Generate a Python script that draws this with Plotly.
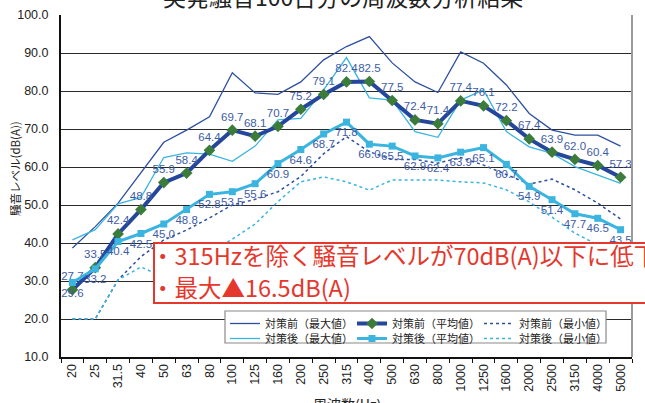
import plotly.graph_objects as go

freqs = ["20", "25", "31.5", "40", "50", "63", "80", "100", "125", "160", "200", "250", "315",
         "400", "500", "630", "800", "1000", "1250", "1600", "2000", "2500", "3150", "4000", "5000"]

before_max = [38.7, 44.3, 50.5, 58.6, 66.5, 69.7, 73.2, 84.8, 79.5, 79.1, 82.4, 88.2, 91.7,
              94.3, 87.4, 82.4, 79.6, 90.3, 87.3, 81.6, 74.1, 69.7, 68.4, 68.4, 65.5]
before_avg = [27.7, 33.5, 42.4, 48.8, 55.9, 58.4, 64.4, 69.7, 68.1, 70.7, 75.2, 79.1, 82.4,
              82.5, 77.5, 72.4, 71.4, 77.4, 76.1, 72.2, 67.4, 63.9, 62.0, 60.4, 57.3]
before_min = [20.0, 20.0, 30.3, 36.4, 40.8, 43.4, 46.6, 50.0, 51.5, 53.5, 57.5, 63.5, 68.0,
              64.0, 62.0, 62.0, 61.0, 62.5, 60.5, 58.0, 55.5, 56.8, 54.0, 50.5, 46.3]
after_max = [40.8, 43.5, 50.3, 52.0, 62.5, 63.7, 63.4, 61.5, 65.5, 72.4, 72.8, 80.3, 88.8,
             78.2, 77.6, 69.3, 67.8, 77.6, 80.3, 69.3, 65.3, 63.6, 60.1, 57.9, 55.7]
after_avg = [29.6, 33.2, 40.4, 42.5, 45.0, 48.8, 52.8, 53.5, 55.6, 60.9, 64.6, 68.7, 71.8,
             66.0, 65.5, 62.9, 62.4, 63.9, 65.1, 60.7, 54.9, 51.4, 47.7, 46.5, 43.5]
after_min = [20.0, 20.0, 30.3, 33.7, 31.0, 34.0, 37.5, 41.0, 45.0, 50.9, 56.1, 57.4, 56.1,
             53.9, 56.6, 56.6, 56.6, 56.1, 55.8, 54.0, 50.8, 46.8, 42.6, 39.5, 36.5]

names = ["対策前（最大値）", "対策前（平均値）", "対策前（最小値）",
         "対策後（最大値）", "対策後（平均値）", "対策後（最小値）"]

DARK = "#2c4fa0"
CYAN = "#3bb5e0"
GREEN = "#3b7c3b"
LABEL = "#3d5ca6"
RED = "#e5372c"
ORANGE = "#e8702a"
JP = "Noto Sans CJK JP"
LAT = "Liberation Sans, Arial, sans-serif"

fig = go.Figure()

fig.add_trace(go.Scatter(x=freqs, y=before_max, name=names[0], mode="lines",
                         line=dict(color=DARK, width=1.3), legend="legend", legendrank=1))
fig.add_trace(go.Scatter(x=freqs, y=after_max, name=names[3], mode="lines",
                         line=dict(color=CYAN, width=1.3), legend="legend2", legendrank=1))
fig.add_trace(go.Scatter(x=freqs, y=before_min, name=names[2], mode="lines",
                         line=dict(color=DARK, width=1.5, dash="dot"), legend="legend", legendrank=3))
fig.add_trace(go.Scatter(x=freqs, y=after_min, name=names[5], mode="lines",
                         line=dict(color=CYAN, width=1.5, dash="dot"), legend="legend2", legendrank=3))
fig.add_trace(go.Scatter(x=freqs, y=before_avg, name=names[1], mode="lines+markers+text",
                         line=dict(color="#25479b", width=4),
                         marker=dict(symbol="diamond", size=9, color=GREEN),
                         text=[f"{v:.1f}" for v in before_avg], textposition="top center",
                         textfont=dict(family=LAT, size=11.5, color=LABEL),
                         legend="legend", legendrank=2))
fig.add_trace(go.Scatter(x=freqs, y=after_avg, name=names[4], mode="lines+markers+text",
                         line=dict(color=CYAN, width=3),
                         marker=dict(symbol="square", size=7, color=CYAN),
                         text=[f"{v:.1f}" for v in after_avg], textposition="bottom center",
                         textfont=dict(family=LAT, size=11.5, color=LABEL),
                         legend="legend2", legendrank=2))

L, R, T, B = 61, 13, 15, 46
W, H = 645, 403
pw = W - L - R
ph = H - T - B

def px2paper_x(px):
    return (px - L) / pw

def px2paper_y(py):
    return (H - B - py) / ph

shapes = [
    # right border
    dict(type="line", xref="paper", yref="paper", x0=1, x1=1, y0=0, y1=1,
         line=dict(color="#9a9a9a", width=2), layer="above"),
    # red callout box
    dict(type="rect", xref="paper", yref="y", x0=px2paper_x(154), x1=1.25, y0=24.2, y1=40.0,
         fillcolor="white", line=dict(color=RED, width=2), layer="above"),
    # legend box
    dict(type="rect", xref="paper", yref="paper", x0=px2paper_x(225), x1=px2paper_x(606),
         y0=px2paper_y(343), y1=px2paper_y(311),
         fillcolor="white", line=dict(color="#8a8a8a", width=1.2), layer="above"),
]

annotations = [
    dict(text="突発騒音100台分の周波数分析結果", xref="paper", yref="paper", x=px2paper_x(343), y=1,
         xanchor="center", yanchor="middle", yshift=19, showarrow=False,
         font=dict(family=JP, size=23, color="#222")),
    dict(text="周波数(Hz)", xref="paper", yref="paper", x=0.5, y=0, xanchor="center",
         yanchor="middle", yshift=-47, showarrow=False, font=dict(family=JP, size=14, color="#222")),
    dict(text="騒音レベル(dB(A))", xref="paper", yref="paper", x=0, y=px2paper_y(169),
         xanchor="center", yanchor="middle", xshift=-46, textangle=-90, showarrow=False,
         font=dict(family=JP, size=11.5, color="#222")),
    dict(text="・315Hzを除く騒音レベルが70dB(A)以下に低下", xref="paper", yref="y",
         x=px2paper_x(154), y=36.9, xanchor="left", yanchor="middle", xshift=-5, showarrow=False,
         font=dict(family=JP, size=23.5, color=RED)),
    dict(text="・最大▲16.5dB(A)", xref="paper", yref="y",
         x=px2paper_x(154), y=28.4, xanchor="left", yanchor="middle", xshift=-5, showarrow=False,
         font=dict(family=JP, size=23.5, color=RED)),
    dict(text="", x="400", y=68.4, xref="x", yref="y", ax=0, ay=-45, showarrow=True,
         arrowside="end+start", arrowhead=2, startarrowhead=2, arrowsize=0.9, startarrowsize=0.9,
         arrowwidth=3, arrowcolor=ORANGE, standoff=0, startstandoff=0),
]

leg_common = dict(orientation="h", xanchor="left", yanchor="top", bgcolor="rgba(0,0,0,0)",
                  borderwidth=0, entrywidth=82, entrywidthmode="pixels", itemwidth=30,
                  font=dict(family=JP, size=11, color="#222"), traceorder="normal")

fig.update_layout(
    width=W, height=H,
    margin=dict(l=L, r=R, t=T, b=B, pad=0, autoexpand=False),
    paper_bgcolor="white", plot_bgcolor="white",
    showlegend=True,
    legend=dict(x=px2paper_x(225), y=px2paper_y(309), **leg_common),
    legend2=dict(x=px2paper_x(225), y=px2paper_y(324), **leg_common),
    xaxis=dict(type="category", categoryorder="array", categoryarray=freqs,
               showgrid=False, showline=True, linecolor="#111", linewidth=2,
               ticks="outside", tickson="boundaries", ticklen=4, tickcolor="#111",
               tickangle=-90, tickfont=dict(family=LAT, size=12.5, color="#222"),
               range=[-0.5, 24.5], zeroline=False, automargin=False),
    yaxis=dict(range=[10, 100], dtick=10, tick0=10, tickformat=".1f",
               showgrid=True, gridcolor="#2a2a2a", gridwidth=1,
               showline=True, linecolor="#111", linewidth=2, ticks="",
               ticklabelstandoff=8, tickfont=dict(family=LAT, size=12.5, color="#222"),
               zeroline=False, automargin=False),
    shapes=shapes,
    annotations=annotations,
)

fig.write_html("out.html", config={"displayModeBar": False},
               post_script="document.body.style.margin='0';document.body.style.overflow='hidden';")
